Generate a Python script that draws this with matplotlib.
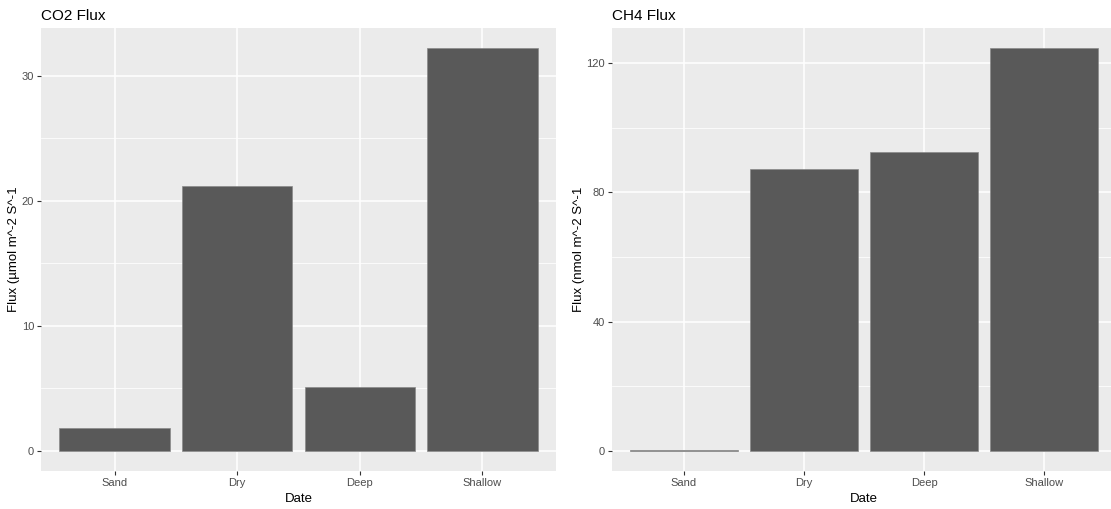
import numpy as np
import matplotlib.pyplot as plt
from matplotlib.ticker import MultipleLocator

plt.rcParams['font.family'] = ['Liberation Sans', 'DejaVu Sans']

# flux per site
sites = ["Sand", "Dry", "Deep", "Shallow"]
co2_flux = [1.84, 21.2, 5.12, 32.2]
ch4_flux = [0.2, 87.4, 92.5, 124.7]

co2_ticks = [0, 10, 20, 30]
ch4_ticks = [0, 40, 80, 120]

panel_bg = "#EBEBEB"
bar_fill = "#595959"

fig = plt.figure(figsize=(11.11, 5.09), dpi=100)
ax1 = fig.add_axes([41 / 1111, 1 - 471 / 509, 515 / 1111, 443 / 509])
ax2 = fig.add_axes([612 / 1111, 1 - 471 / 509, 504 / 1111, 443 / 509])


def gg_bars(ax, vals, ticks, minor_step, title, ylab):
    x = np.arange(1, len(sites) + 1)
    ax.set_facecolor(panel_bg)
    ax.bar(x, vals, width=0.9, color=bar_fill, edgecolor="#8a8a8a",
           linewidth=0.5, zorder=3)

    # ggplot style padding: 0.6 on discrete x, 5% on continuous y
    ax.set_xlim(0.4, len(sites) + 0.6)
    top = max(vals)
    ax.set_ylim(-0.05 * top, top * 1.05)

    ax.set_xticks(x)
    ax.set_xticklabels(sites)
    ax.set_yticks(ticks)
    ax.yaxis.set_minor_locator(MultipleLocator(minor_step))
    ax.grid(which="major", color="white", linewidth=1.1, zorder=0)
    ax.grid(which="minor", axis="y", color="white", linewidth=0.55, zorder=0)
    ax.set_axisbelow(True)

    for s in ax.spines.values():
        s.set_visible(False)
    ax.tick_params(which="major", length=3, width=0.8, color="#333333",
                   labelcolor="#4D4D4D", labelsize=8, pad=2)
    ax.tick_params(which="minor", length=0)

    ax.set_title(title, loc="left", fontsize=11, color="black", pad=6)
    ax.set_xlabel("Date", fontsize=9.5, labelpad=4)
    ax.set_ylabel(ylab, fontsize=9.5, labelpad=1)


gg_bars(ax1, co2_flux, co2_ticks, 5, "CO2 Flux", "Flux (\u00b5mol m^-2 S^-1")
gg_bars(ax2, ch4_flux, ch4_ticks, 20, "CH4 Flux", "Flux (nmol m^-2 S^-1")

fig.savefig("out.png", dpi=100)
